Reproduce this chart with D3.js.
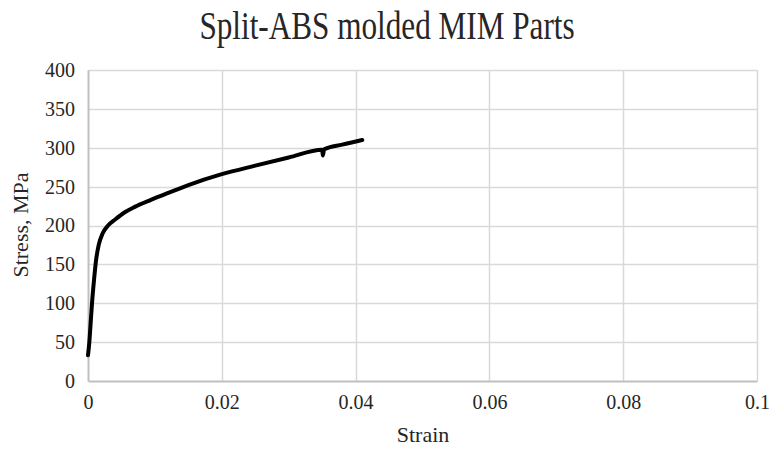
<!DOCTYPE html>
<html>
<head>
<meta charset="utf-8">
<script src="https://cdn.jsdelivr.net/npm/d3@7"></script>
<style>
  body { margin: 0; background: #fff; }
  svg text { font-family: "Liberation Serif", "Times New Roman", serif; fill: #262626; }
</style>
</head>
<body>
<div id="chart"></div>
<script>
// strain (mm/mm) and stress (MPa)
var strain = [0, 0.0002, 0.0004, 0.0006, 0.0009, 0.0012, 0.0016, 0.0022, 0.0030, 0.0041, 0.0055,
  0.0070, 0.0094, 0.012, 0.015, 0.020, 0.025, 0.030, 0.0350, 0.0351, 0.0353, 0.038, 0.041];
var stress = [33, 50, 75, 100, 130, 155, 175, 190, 200, 208, 217,
  224, 233, 242, 252, 266, 277, 287.5, 297.5, 290, 298, 304, 310];
var xTicks = [0, 0.02, 0.04, 0.06, 0.08, 0.1];
var yTicks = [0, 50, 100, 150, 200, 250, 300, 350, 400];

var W = 771, H = 450,
  margin = { top: 70, right: 14, bottom: 69, left: 88 },
  width = W - margin.left - margin.right,
  height = H - margin.top - margin.bottom;

var svg = d3.select('#chart').append('svg')
  .attr('width', W)
  .attr('height', H);

var g = svg.append('g').attr('transform', 'translate(' + margin.left + ',' + margin.top + ')');

var x = d3.scaleLinear().domain([0, 0.1]).range([0, width]),
  y = d3.scaleLinear().domain([0, 400]).range([height, 0]);

// gridlines
g.selectAll('.hgrid').data(yTicks.slice(1)).enter().append('line')
  .attr('x1', 0).attr('x2', width)
  .attr('y1', function(d) { return Math.round(y(d)) + 0.5; })
  .attr('y2', function(d) { return Math.round(y(d)) + 0.5; })
  .attr('stroke', '#d9d9d9').attr('stroke-width', 1.5);
g.selectAll('.vgrid').data(xTicks.slice(1)).enter().append('line')
  .attr('y1', 0).attr('y2', height)
  .attr('x1', function(d) { return Math.round(x(d)) + 0.5; })
  .attr('x2', function(d) { return Math.round(x(d)) + 0.5; })
  .attr('stroke', '#d9d9d9').attr('stroke-width', 1.5);

// axes
var xAxis = g.append('g').attr('transform', 'translate(0,' + height + ')')
  .call(d3.axisBottom(x).tickValues(xTicks).tickSize(0).tickPadding(14)
    .tickFormat(function(d) { return d === 0 ? '0' : String(+d.toFixed(2)); }));
var yAxis = g.append('g')
  .call(d3.axisLeft(y).tickValues(yTicks).tickSize(0).tickPadding(13));
[xAxis, yAxis].forEach(function(a) {
  a.attr('font-family', '"Liberation Serif", "Times New Roman", serif').attr('font-size', 20);
  a.select('.domain').attr('stroke', '#bfbfbf').attr('stroke-width', 2);
  a.selectAll('text')
    .style('font-family', '"Liberation Serif", "Times New Roman", serif')
    .style('font-size', '20px').attr('fill', '#262626');
});

// curve
var pts = strain.map(function(s, i) { return [s, stress[i]]; });
g.append('path')
  .datum(pts)
  .attr('fill', 'none')
  .attr('stroke', '#000')
  .attr('stroke-width', 4)
  .attr('stroke-linejoin', 'round')
  .attr('stroke-linecap', 'round')
  .attr('d', d3.line()
    .x(function(d) { return x(d[0]); })
    .y(function(d) { return y(d[1]); })
    .curve(d3.curveMonotoneX));

// titles
svg.append('text')
  .attr('transform', 'translate(387,39) scale(0.78,1)')
  .attr('text-anchor', 'middle')
  .style('font-size', '40px')
  .text('Split-ABS molded MIM Parts');

svg.append('text')
  .attr('transform', 'translate(423,442)')
  .attr('text-anchor', 'middle')
  .style('font-size', '22px')
  .text('Strain');

svg.append('text')
  .attr('transform', 'translate(28,225) rotate(-90)')
  .attr('text-anchor', 'middle')
  .style('font-size', '22px')
  .text('Stress, MPa');
</script>
</body>
</html>
